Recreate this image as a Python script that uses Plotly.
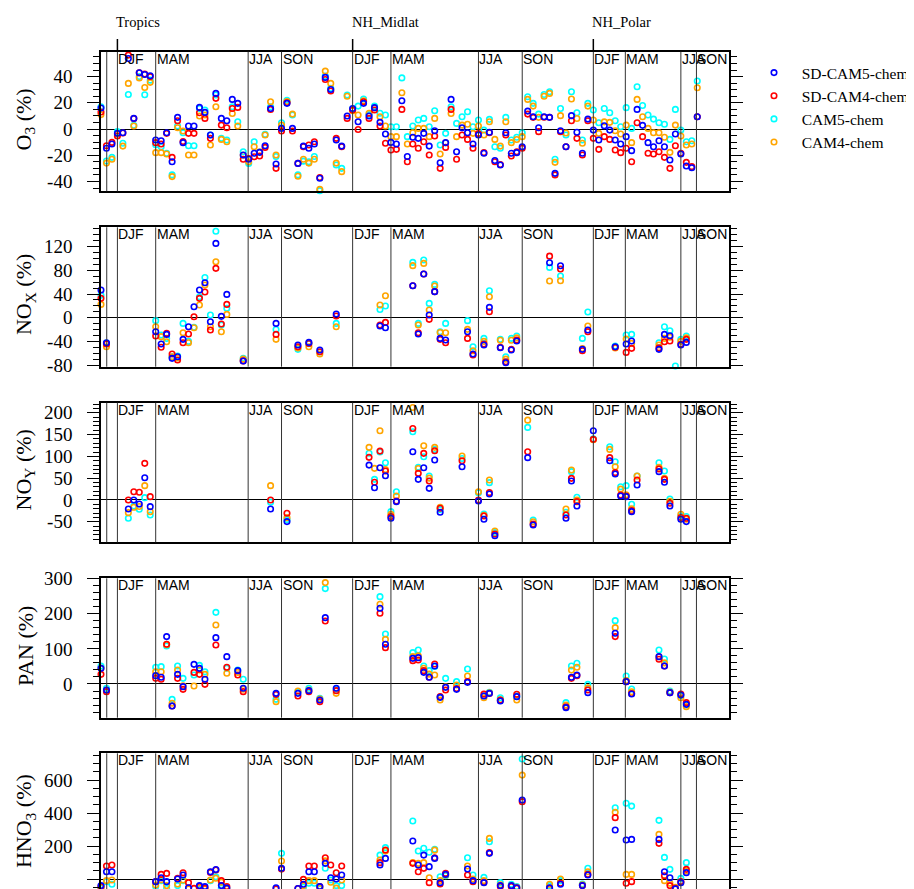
import plotly.graph_objects as go

# ------------------------------------------------------------------ data
series_names = ["SD-CAM5-chem", "SD-CAM4-chem", "CAM5-chem", "CAM4-chem"]
series_colors = ["#0000FF", "#FF0000", "#00FFFF", "#FFA500"]

# season boundaries (observation-index units) and labels
season_pos = [1.05, 3, 10, 26.9, 33, 46, 53, 69, 77, 90, 95.85, 106, 108.85]
season_lab = ["", "DJF", "MAM", "JJA", "SON", "DJF", "MAM", "JJA", "SON", "DJF", "MAM", "JJA", "SON"]
region_pos = [3, 46, 90]
region_lab = ["Tropics", "NH_Midlat", "NH_Polar"]

# ---- O3
o3_idx = list(range(0, 110))
o3_sdcam5 = [16, -14.7, -11.4, -3.3, -2.8, 53.8, 8.1, 42.9, 41.6, 40.6,
             -8.4, -8.9, -2.8, -24.9, 8.9, -10.4, 2.3, 2.3, 16.5, 12.7,
             -4.6, 27.2, 8.1, 6.3, 22.6, 19.6, -19.8, -23.1, -18.5, -17.8,
             -12.7, 15.7, -26.7, 0.5, 19.6, 0.5, -26.2, -13, -14.7, -11.4,
             -37.6, 39.4, 30.2, -8.4, -13, 9.9, 15.7, 5.6, 19.6, 9.9,
             16.3, 5.1, -3.8, -10.2, -11.4, 21.6, -21, -6.3, -7.1, -3.3,
             -13, -1.3, -25.7, -10.4, 22.6, -17.3, 1, -2.8, -11.4, -4.6,
             -18.5, -2.5, -24, -27.4, -2.8, -18.5, -18, -13.5, 13.7, 9.4,
             1, 9.4, 8.9, -33.8, -1.3, -13.5, 10.2, -2.5, -18.5, 7.6,
             -0.8, -8.4, 2.5, -0.8, -8.4, -11.4, -5.8, -16.5, 15, 2.8,
             -10.4, -13.5, -8.9, -13.5, -23.6, -3.8, -19, -28.2, -29.5, 9.4]
o3_sdcam4 = [13, -12.7, -10.2, -5.3, -3, 56.4, 8, 42.9, 41.9, 40,
             -10.4, -11.4, -3.3, -21.6, 6.3, -9.5, -3.3, -3.3, 12.4, 8.1,
             -7.1, 23.4, 3, 1, 15.7, 16.5, -23.1, -22.5, -21.1, -20.6,
             -14, 15, -30, -1.5, 20, -1.5, -26.2, -13.5, -12.2, -9.7,
             -37, 37.8, 29, -7.1, -13.5, 8.1, 14.5, -0.3, 20.8, 8.1,
             14.5, 2.3, -10.9, -16, -15.5, 15, -24.9, -11.4, -14.7, -9.7,
             -19.8, -5.3, -30, -14, 15, -23.1, -4.6, -7.9, -14.7, -3.5,
             -18, -2.8, -24.9, -27, -4.6, -20.6, -17.3, -14.7, 11.4, 8.9,
             -2, 9, 8.9, -35, -2, -13.5, 6.3, -7.1, -19.8, 6.3,
             -7.1, -15.5, -5.8, -7.9, -16, -18, -14.7, -24.9, 4.8, -5.8,
             -18.5, -19, -17.3, -21.6, -30, -12.7, -18.5, -25.4, -28.7, 9.4]
o3_cam5 = [17, -24.4, -21.6, -2, -10.9, 26.4, 2.8, 40, 26.2, 37.3,
           -12, -13.5, -18.5, -35, 2.3, -2.8, -12.7, -12.7, 15.7, 14.5,
           -4.6, 26, -7.1, -8.4, 17, 5.6, -17.3, -26.2, -9.7, -17.5,
           -4.1, 17, -21, 4.8, 22, 10.7, -35, -24.5, -24.9, -21,
           -47, 40.5, 31, -27.4, -30, 26, 15.5, 17.5, 22.9, 11,
           17.5, 12, 10.7, 1.8, 1.8, 39, -5.8, 2.3, 6.9, 8.1,
           1.8, 14, -12.2, -3.3, 17, 4.3, 9.4, 13.2, 1.8, 6.9,
           -0.8, 7.4, -13.5, -14.7, 8.9, -8.4, -6.3, -2.8, 24.6, 19.6,
           11.4, 26.4, 28.4, -23.1, 15.7, -4.6, 28.4, 12.4, -8.4, 19.6,
           14.5, 4.8, 15.7, 12.4, 6.3, 1.8, 16.3, 0.5, 32.3, 18,
           10.7, 7.6, 4.8, 3.6, -7.9, 15, -0.8, -9.7, -8.9, 36.6]
o3_cam4 = [11, -26, -23, -4, -13, 34.8, 2.3, 39, 31.7, 35.6,
           -18, -18, -19, -36.3, 1, -1.5, -19.8, -19.8, 9.9, 10.7,
           -12.2, 17, -7.9, -9.7, 11.9, 2.3, -20, -25, -13.5, -17.5,
           -4.6, 20.8, -19.8, 3, 21, 11.4, -36, -23, -26, -23,
           -46, 44.2, 34.8, -26, -32.5, 25, 14, 10.7, 21.5, 12,
           16, 9.4, 2.3, -5.8, -5.8, 27.7, -11.4, -2.8, 0.5, 0.5,
           -5.8, 8.1, -19, -10.5, 11.9, -5.8, 3, 3.6, -3.3, 2.3,
           -4.6, 5.6, -7.9, -13, 5.6, -10.4, -8, -5.8, 22.6, 17.5,
           8.9, 25, 27.2, -25.4, 10.2, -3, 22.9, 8, -10.9, 17.5,
           6.9, -3.3, 5.5, 5.1, -1.3, -3.8, 3, -10.4, 22.6, 9.4,
           0.5, -2.8, -2.8, -6.3, -17.8, 3, -5.3, -12.2, -11.4, 31.5]

# ---- NOx
nox_idx = [0, 1, 10, 11, 12, 13, 14, 15, 16, 17, 18, 19, 20, 21, 22, 23, 26, 32, 36, 38,
           40, 43, 51, 52, 57, 58, 59, 60, 61, 62, 63, 67, 68, 70, 71, 73, 74, 75, 76, 82,
           84, 88, 89, 94, 96, 97, 102, 103, 104, 105, 106, 107]
nox_sdcam5 = [46.8, -42.3, -23.7, -44.5, -28.2, -68.7, -66, -36.6, -15.2, 18.6, 46.8, 59.2, -6.8, 125.6, 2.3, 39.4, -73.2, -9.6, -46.2, -41.7,
              -54.6, 6.2, -14, -16.9, 54, -27.6, 73.8, 4.5, 44, -35, -37.7, -23.7, -61.4, -46.2, 17.5, -50.7, -76, -54.6, -39.4, 93,
              87.9, -53.5, -20.8, -49, -44.5, -39.4, -53.5, -28.2, -30.4, None, -46.2, -41.7]
nox_sdcam4 = [32.7, -44.5, -31, -50, -26.5, -61.4, -71.5, -42.3, -27.6, 1.7, 32.7, 43.4, -20.8, 83.4, -10.7, 22.5, -73, -28.2, -49, -43.4,
              -57.5, 2.8, -12.4, -7.9, 54, -25.4, 73.8, -2.8, 44, -36.6, -42.3, -35, -63, -44.5, 10.1, -50, -74.4, -53.5, -37.7, 104,
              82.3, -55.8, -23.7, -50, -58.6, -51.8, -51, -40.6, -39.4, None, -45, -36.6]
nox_cam5 = [38, -43, -5, -29.3, -35, -66, -64.8, -9.6, -40, -16, 35.5, 68, 4.5, 146, -12.4, 15.8, -68.7, -20, -53.5, -44,
            -58, -9.6, 14, 19.7, 93.5, -9.6, 97.5, 24.2, 56.3, -23.7, -9.6, -5, -49, -35, 45.6, -36.6, -66, -35, -31, 85,
            70.4, -35, 9.6, -48, -29.3, -28.2, -42.3, -15.2, -22, -81.7, -36.6, -31]
nox_cam4 = [22.5, -49, -15.2, -32, -40.6, -66, -68, -25.4, -42.3, -16.9, 21.4, 55.2, -15.2, 94.6, -23.7, 5.6, -70, -36.6, -51, -49,
            -61.4, -15.2, 21.4, 37.2, 88, -12.4, 91.8, 13, 53.5, -25, -25.4, -19.7, -55.8, -40, 35.5, -38, -70, -38, -34, 62,
            62.5, -52, -14, -51, -36, -43.4, -46, -35, -33, None, -40, -34]

# ---- NOy
noy_idx = [5, 6, 7, 8, 9, 31, 34, 49, 50, 51, 52, 53, 54, 57, 58, 59, 60, 61, 62, 66,
           69, 70, 71, 72, 78, 79, 85, 86, 87, 90, 93, 94, 95, 96, 97, 98, 102, 103, 104, 106, 107]
noy_sdcam5 = [-20.6, 0, -9.2, 51, -15.3, -20.6, -49.6, 80, 28.2, 74, 55.7, -42, -3.8, 110.7, 47.3, 74, 26.7, 91.6, -28.2, 76.3,
              -2.3, -44.3, 13.7, -81.7, 97, -57.3, -42, 43.5, -13.7, 158.8, 90, 59.5, 9.2, 7.6, -26.7, 34.4, 65, 40.5, -13.7, -44.3, -49.6]
noy_sdcam4 = [0, 19, 17.6, 84, 7.6, 0, -30.5, 97.7, 40.5, 112, 66.4, -38, -2.3, 164, 61, 106.9, 43.5, 113, -19, 90,
              0, -36.6, 16.8, -78, 110.7, -55, -34.4, 49.6, -3.8, 139, 97, 62.6, 11.5, 9.2, -24.4, 45.8, 71, 47.3, -7.6, -40, -42]
noy_cam5 = [-42, -13.7, -21.4, 5.3, -34.4, -5, -45, 107, 47.3, 110, 85.5, -26.7, 19, 156.5, 74.8, 99, 55, 116, -22, 95,
            16.8, -32, 39.7, -74.8, 166.4, -45.8, -28, 65, 6.1, 140, 122, 87.8, 30.5, 32.8, -9.9, 55, 85.5, 66.4, 2.3, -36.6, -38]
noy_cam4 = [-29, -16.8, -15, 32.8, -26.7, 32.8, -40.5, 120.6, 72.5, 158.8, 70, -33, 9, 212, 72, 124.4, 50, 120.6, -16.8, 100.8,
            19, -35, 45.8, -71, 183, -50, -20.6, 68.7, 0, 138, 116, 76.3, 25, 12, -20, 55, 74.8, 49.6, -3, -32.8, -44]

# ---- PAN
pan_idx = [0, 1, 10, 11, 12, 13, 14, 15, 17, 18, 19, 21, 23, 25, 26, 32, 36, 38, 40, 41,
           43, 51, 52, 57, 58, 59, 60, 61, 62, 63, 65, 67, 70, 71, 73, 76, 85, 86, 87, 89,
           94, 96, 97, 102, 103, 104, 106, 107]
pan_sdcam5 = [44.6, -17, 23.7, 19, 134.9, -62.7, 27.5, -7.6, 56, 44.6, 13.3, 132, 77.9, 38, -12.3, -26.6, -26.6, -19, -45.6, 189,
              -12.3, 215.6, 113, 73, 75, 33.2, 19, 51.3, -38, -9.5, -15.2, 4.7, -34.2, -26.6, -48.4, -36.1, -67.4, 19, 25.6, -24.7,
              144.3, 6.6, -28.5, 77.9, 51.3, -24.7, -31.3, -58]
pan_sdcam4 = [27.5, -21.8, 16, 13.3, 113, -62.7, 16, -15.2, 33, 27.5, -1, 111, 47.5, 25.6, -21.8, -30, -34, -22, -50.3, 179.5,
              -19, 201.3, 103.5, 66.5, 68.4, 38, 19, 57, -36, -17, -13, 6.6, -29, -27, -46, -29.4, -65, 16.1, 23.7, -17,
              134.9, 6.6, -27, 70.3, 51.3, -24.7, -28.5, -53.2]
pan_cam5 = [51, -12.3, 47.5, 49.4, 108.3, -43.7, 51.3, 16, 25.6, 53, 35, 204, 45, 40, 13.3, -43.7, -22, -12.3, -40.8, 271.6,
            -15, 248.8, 142.4, 89.3, 96.9, 51.3, 38, 50, -38, 16.1, 6.6, 42.7, -34, -24, -39, -34, -53.2, 51.3, 58.9, -1,
            180.4, 22.8, -14.2, 96.9, 71.2, -20, -33, -60]
pan_cam4 = [45, -18, 35, 35, 112, -55, 39.9, -5, -5.7, 40, 27.5, 168, 30.4, 33, -15, -50.3, -20, -17, -43, 288.7,
            -26.6, 227, 127, 78, 80, 45, 28, 25.6, -45.6, -8, -3, 22.8, -39, -25, -45, -45.6, -59.8, 39.9, 47.5, -11,
            160.5, 10, -22, 77.9, 60, -23, -39, -64.6]

# ---- HNO3
hno3_idx = [0, 1, 2, 10, 11, 12, 14, 15, 16, 17, 18, 19, 20, 21, 22, 23, 32, 33, 36, 37,
            38, 39, 40, 41, 42, 43, 44, 51, 52, 57, 58, 59, 60, 61, 62, 63, 67, 68, 70, 71,
            73, 75, 76, 77, 82, 84, 88, 89, 94, 96, 97, 102, 103, 104, 105, 106, 107]
hno3_sdcam5 = [-40, 44, 44, -16, 8, -16, 0, 24, -53, -70, -40, -46, 44, 58, -40, -55, -53, 64.6, -58, -32,
               44, 44, -46, 95, 8, 0, 24, 85, 125, 230, 85, 145, 75, 125, -22, 28, 61, -10, -22, 155.6,
               -40, -40, -53, 479, -53, -32, -40, 24, 297, 236, 240, 240, 44, 8, -60, -22, 38.4]
hno3_sdcam4 = [-45, 79, 85, -16, 28, 34, 5, 38, -22, -57, -45, -55, 40, 55, -10, -46, -60, 60, -58, -2,
               79, 79, -46, 129, 85, 38, 79, 99, 176, 95, 44, 64.6, -22, 129, -30, 34, 24, -16, -20, 160,
               -45, -45, -55, 469, -55, -26, -40, 28, 372, -26, -16, 216, 20, -40, -57, -15, 58.6]
hno3_cam5 = [-55, -16, -32, -45, -10, -57, -40, -10, -70, -80, -60, -65, -10, 14, -55, -65, -65, 155.6, -70, -50,
             -26, -26, -60, 65, -6, -40, -40, 145, 190, 351.5, 170, 186, 162, 180, 14, 20, 129, 24, 10, 226,
             -22, -32, -45, 727, -40, -10, -30, 65, 432, 459, 442, 355.6, 131, 58.6, -70, 4, 99]
hno3_cam4 = [-50, -10, -6, -36, -5, -40, -30, -6, -60, -75, -55, -60, -6, 5, -20, -60, -70, 109, -70, -40,
             -10, -10, -55, 110, -20, -55, -6, 115, 170, 100, 95, 99, 8, 175, -10, 25, 79, 0, -10, 246,
             -35, -40, -50, 630, -32, 0, -35, 44, 404, 28, 28, 270.7, -10, -26, -50, -20, 48.5]

# axis ticks
o3_ticks = [-40, -20, 0, 20, 40]
nox_ticks = [-80, -40, 0, 40, 80, 120]
noy_ticks = [-50, 0, 50, 100, 150, 200]
pan_ticks = [0, 100, 200, 300]
hno3_ticks = [0, 200, 400, 600]

# ------------------------------------------------------------------ layout helpers
OFF = 8                      # page body margin
W, H = 914 - OFF, 889 - OFF  # figure size so that it fits the window
X_RANGE = [0, 114.8]


def fx(px):
    return (px - OFF) / W


def fy(py):
    return 1 - (py - OFF) / H


panels = [
    dict(title="O<sub>3</sub> (%)", idx=o3_idx, vals=[o3_sdcam5, o3_sdcam4, o3_cam5, o3_cam4],
         ticks=o3_ticks, minor=5, rng=[-47.5, 59], top=51.7, bot=191.3),
    dict(title="NO<sub>X</sub> (%)", idx=nox_idx, vals=[nox_sdcam5, nox_sdcam4, nox_cam5, nox_cam4],
         ticks=nox_ticks, minor=10, rng=[-82.8, 152.8], top=227.3, bot=366.7),
    dict(title="NO<sub>Y</sub> (%)", idx=noy_idx, vals=[noy_sdcam5, noy_sdcam4, noy_cam5, noy_cam4],
         ticks=noy_ticks, minor=10, rng=[-97, 223], top=402.7, bot=542.3),
    dict(title="PAN (%)", idx=pan_idx, vals=[pan_sdcam5, pan_sdcam4, pan_cam5, pan_cam4],
         ticks=pan_ticks, minor=20, rng=[-96, 301], top=578.3, bot=717.7),
    dict(title="HNO<sub>3</sub> (%)", idx=hno3_idx, vals=[hno3_sdcam5, hno3_sdcam4, hno3_cam5, hno3_cam4],
         ticks=hno3_ticks, minor=50, rng=[-60.6, 762], top=753.3, bot=889),
]

fig = go.Figure()
shapes, annotations = [], []
draw_order = [2, 3, 1, 0]  # cyan, orange, red, blue (blue on top)

for p, pan in enumerate(panels):
    n = p + 1
    xa = "x" if n == 1 else f"x{n}"
    ya = "y" if n == 1 else f"y{n}"
    for s in draw_order:
        fig.add_trace(go.Scatter(
            x=pan["idx"], y=pan["vals"][s], mode="markers", xaxis=xa, yaxis=ya,
            name="\u00a0\u00a0" + series_names[s], legendgroup=series_names[s], showlegend=(n == 1),
            legendrank=s + 1, cliponaxis=False,
            marker=dict(symbol="circle-open", size=5.5, color=series_colors[s],
                        line=dict(width=1.6, color=series_colors[s]))))
    last = (n == len(panels))
    dom = [max(0.0, fy(pan["bot"])), fy(pan["top"])]
    fig.layout[("xaxis" if n == 1 else f"xaxis{n}")] = dict(
        domain=[fx(101), fx(729)], range=X_RANGE, anchor=ya, automargin=False,
        showticklabels=False, ticks="", showgrid=False, zeroline=False,
        showline=True, linecolor="black", linewidth=2,
        mirror=(False if last else True), side=("top" if last else "bottom"))
    fig.layout[("yaxis" if n == 1 else f"yaxis{n}")] = dict(
        domain=dom, range=pan["rng"], anchor=xa, automargin=False,
        tickmode="array", tickvals=pan["ticks"], ticktext=[str(t) for t in pan["ticks"]],
        ticks="outside", ticklen=12, tickwidth=1, tickcolor="black",
        minor=dict(tickmode="linear", tick0=0, dtick=pan["minor"], ticks="outside",
                   ticklen=6, tickwidth=1, tickcolor="black", showgrid=False),
        ticklabelstandoff=11,
        tickfont=dict(family="Liberation Serif", size=19, color="black"),
        showline=True, linecolor="black", linewidth=1.5, mirror="allticks",
        showgrid=False, zeroline=True, zerolinecolor="black", zerolinewidth=1)
    # season boundary lines and labels
    for sp, sl in zip(season_pos, season_lab):
        shapes.append(dict(type="line", xref=xa, yref=f"{ya} domain", x0=sp, x1=sp, y0=0, y1=1,
                           line=dict(color="#333333", width=1)))
        if sl:
            annotations.append(dict(xref=xa, yref=f"{ya} domain", x=sp, y=1, text=sl,
                                    xanchor="left", yanchor="top", showarrow=False, xshift=-1, yshift=3,
                                    font=dict(family="Liberation Sans", size=14, color="black")))
    # y-axis title (centred on a full-height panel)
    ymid = fy((pan["top"] + pan["top"] + 139.5) / 2 - 2)
    annotations.append(dict(xref="paper", yref="paper", x=fx(25), y=ymid, text=pan["title"],
                            textangle=-90, showarrow=False, xanchor="center", yanchor="middle",
                            font=dict(family="Liberation Serif", size=22, color="black")))

# region markers above the top panel
for rp, rl in zip(region_pos, region_lab):
    shapes.append(dict(type="line", xref="x", yref="paper", x0=rp, x1=rp, y0=fy(51.7), y1=fy(39),
                       line=dict(color="black", width=1.5)))
    annotations.append(dict(xref="x", yref="paper", x=rp, y=fy(22), text=rl, xanchor="left",
                            yanchor="middle", showarrow=False, xshift=-3,
                            font=dict(family="Liberation Serif", size=14.5, color="black")))

fig.update_layout(
    width=W, height=H, margin=dict(l=0, r=0, t=0, b=0, autoexpand=False),
    paper_bgcolor="white", plot_bgcolor="white",
    shapes=shapes, annotations=annotations,
    legend=dict(x=1, y=fy(56), xanchor="right", yanchor="top",
                font=dict(family="Liberation Serif", size=15.5, color="black"),
                bgcolor="rgba(0,0,0,0)", borderwidth=0, tracegroupgap=0),
    showlegend=True,
)

fig.write_html("out.html")
